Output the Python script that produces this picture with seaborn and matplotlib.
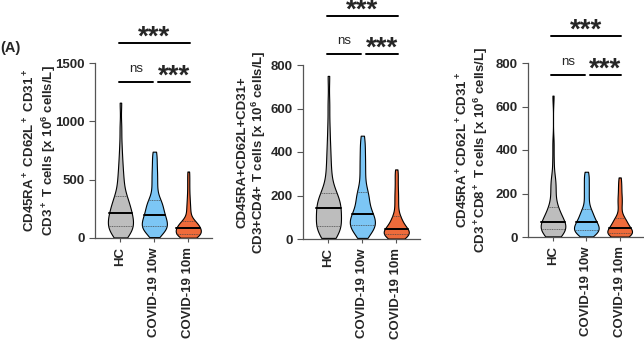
import numpy as np
import pandas as pd
import matplotlib
matplotlib.use('Agg')
import matplotlib.pyplot as plt
import seaborn as sns

groups = ['HC', 'COVID-19 10w', 'COVID-19 10m']
colors = ['#BDBDBD', '#7CC6F5', '#EE6B3B']

# panel 1: CD45RA+CD62L+CD31+ CD3+ T cells (estimated samples)
cd3_hc = [5, 20, 35, 48, 58, 67, 76, 84, 91, 97, 102, 115, 128, 140, 152, 163, 175, 186, 196, 204,
          212, 225, 240, 255, 270, 285, 300, 315, 330, 345, 360, 400, 440, 480, 520, 570, 630, 700, 800, 950, 1160]
cd3_10w = [8, 30, 48, 60, 70, 78, 85, 91, 96, 99, 102, 112, 122, 133, 144, 155, 165, 175, 184, 190,
           196, 210, 225, 240, 255, 268, 280, 292, 305, 315, 323, 360, 400, 440, 480, 520, 560, 600, 650, 700, 740]
cd3_10m = [3, 8, 13, 18, 22, 26, 29, 32, 34, 36, 38, 44, 50, 56, 62, 68, 73, 78, 83, 86,
           89, 95, 101, 107, 113, 119, 125, 131, 137, 141, 146, 175, 205, 235, 265, 300, 340, 390, 450, 510, 570]

# panel 2: CD3+CD4+
cd4_hc = [5, 14, 22, 30, 37, 43, 48, 52, 56, 59, 61, 70, 80, 90, 100, 110, 118, 125, 131, 136,
          141, 148, 155, 162, 170, 178, 185, 192, 199, 205, 210, 235, 260, 290, 320, 360, 400, 450, 520, 620, 750]
cd4_10w = [5, 18, 28, 36, 43, 49, 54, 58, 61, 63, 65, 71, 77, 83, 89, 95, 100, 105, 110, 114,
           117, 128, 139, 150, 161, 172, 183, 194, 204, 211, 216, 240, 265, 290, 315, 340, 365, 390, 420, 445, 475]
cd4_10m = [2, 6, 9, 12, 14, 16, 18, 20, 21, 22, 23, 26, 29, 32, 35, 37, 39, 41, 43, 44,
           45, 51, 57, 63, 69, 75, 81, 87, 93, 99, 104, 125, 145, 165, 185, 205, 225, 250, 275, 300, 320]

# panel 3: CD3+CD8+
cd8_hc = [3, 8, 13, 17, 21, 24, 27, 30, 32, 34, 36, 39, 43, 47, 51, 55, 58, 61, 64, 66,
          68, 75, 82, 89, 96, 103, 110, 117, 124, 131, 138, 160, 185, 205, 225, 245, 262, 280, 350, 430, 650]
cd8_10w = [3, 9, 14, 18, 21, 24, 26, 28, 30, 31, 33, 37, 41, 45, 49, 53, 57, 60, 63, 65,
           67, 73, 79, 85, 91, 97, 103, 109, 115, 121, 127, 145, 162, 180, 198, 215, 232, 250, 268, 285, 300]
cd8_10m = [2, 4, 6, 8, 10, 12, 13, 14, 15, 16, 17, 20, 23, 26, 29, 32, 35, 38, 40, 42,
           43, 48, 53, 58, 63, 68, 73, 77, 81, 84, 87, 105, 125, 145, 160, 175, 190, 210, 230, 250, 274]

ylabels = [
    'CD45RA$^+$ CD62L$^+$ CD31$^+$\nCD3$^+$ T cells [x 10$^6$ cells/L]',
    'CD45RA+CD62L+CD31+\nCD3+CD4+ T cells [x 10$^6$ cells/L]',
    'CD45RA$^+$CD62L$^+$CD31$^+$\nCD3$^+$CD8$^+$ T cells [x 10$^6$ cells/L]',
]
ymax = [1500, 800, 800]
yticks = [[0, 500, 1000, 1500], [0, 200, 400, 600, 800], [0, 200, 400, 600, 800]]
panel_data = [[cd3_hc, cd3_10w, cd3_10m], [cd4_hc, cd4_10w, cd4_10m], [cd8_hc, cd8_10w, cd8_10m]]

sns.set_style('ticks')
plt.rcParams['font.family'] = ['Liberation Sans', 'DejaVu Sans']
plt.rcParams['font.weight'] = 'bold'
plt.rcParams['mathtext.fontset'] = 'custom'
plt.rcParams['mathtext.rm'] = 'Liberation Sans:bold'
plt.rcParams['mathtext.it'] = 'Liberation Sans:bold'
plt.rcParams['mathtext.bf'] = 'Liberation Sans:bold'

fig = plt.figure(figsize=(6.44, 3.57), dpi=100)
W, H = 644, 357
# (left, right, top, bottom) in pixels
boxes = [(95, 212, 63, 238), (303, 420, 65, 239), (528, 643, 63, 237)]
bar_hi = [1.114, 1.28, 1.155]
bar_lo = [0.891, 1.063, 0.93]
label_x = [-0.32, -0.30, -0.33]


def stars(ax, x, y):
    ax.annotate('***', xy=(x, y), xycoords=ax.get_xaxis_transform(), xytext=(0, -1),
                textcoords='offset points', ha='center', va='baseline',
                fontsize=20, fontweight='bold', annotation_clip=False)


for i in range(3):
    l, r, t, b = boxes[i]
    ax = fig.add_axes([l / W, 1 - b / H, (r - l) / W, (b - t) / H])
    df = pd.DataFrame({
        'group': np.repeat(groups, [len(v) for v in panel_data[i]]),
        'value': np.concatenate(panel_data[i]),
    })
    sns.violinplot(data=df, x='group', y='value', hue='group', palette=colors,
                   order=groups, cut=0, inner='quart', density_norm='width',
                   width=0.74, bw_adjust=0.6, linewidth=0.8, linecolor='black',
                   saturation=1, legend=False, ax=ax)
    # median solid, quartiles dotted
    for k, ln in enumerate(ax.lines):
        if k % 3 == 1:
            ln.set_linestyle('-')
            ln.set_linewidth(1.4)
            ln.set_color('black')
        else:
            ln.set_linestyle((0, (1.5, 1)))
            ln.set_linewidth(0.5)
            ln.set_color('#444444')
    ax.set_ylim(0, ymax[i])
    ax.set_yticks(yticks[i])
    ax.set_xlim(-0.75, 2.7)
    ax.set_xlabel('')
    ax.set_ylabel(ylabels[i], fontsize=9.5, fontweight='bold', linespacing=1.1)
    ax.yaxis.set_label_coords(label_x[i], 0.5)
    ax.tick_params(axis='x', labelrotation=90, labelsize=9.5, length=3, width=0.8, color='#555555')
    ax.tick_params(axis='y', labelsize=9.5, length=4, width=0.8, color='#555555')
    for lab in ax.get_xticklabels() + ax.get_yticklabels():
        lab.set_fontweight('bold')
    sns.despine(ax=ax)
    for s in ['left', 'bottom']:
        ax.spines[s].set_color('#555555')
        ax.spines[s].set_linewidth(0.9)

    # significance brackets
    tr = ax.get_xaxis_transform()
    ax.plot([-0.05, 2.05], [bar_hi[i]] * 2, color='black', lw=1.4, transform=tr, clip_on=False)
    stars(ax, 1.0, bar_hi[i])
    ax.plot([-0.05, 0.95], [bar_lo[i]] * 2, color='black', lw=1.4, transform=tr, clip_on=False)
    ax.plot([1.1, 2.05], [bar_lo[i]] * 2, color='black', lw=1.4, transform=tr, clip_on=False)
    ax.text(0.45, bar_lo[i] + 0.04, 'ns', transform=tr, ha='center', va='bottom',
            fontsize=9.5, fontweight='normal')
    stars(ax, 1.57, bar_lo[i])

fig.text(0.0, 1 - 48 / H, '(A)', fontsize=10.5, fontweight='bold', ha='left', va='center')

fig.savefig('out.png', dpi=100)
